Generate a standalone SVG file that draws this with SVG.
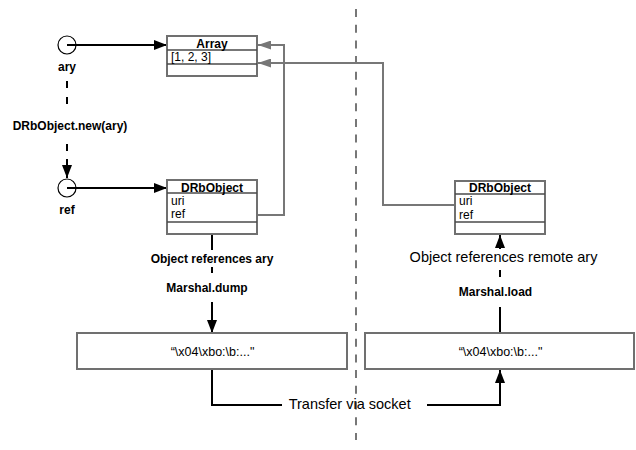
<svg xmlns="http://www.w3.org/2000/svg" width="636" height="450" viewBox="0 0 636 450">
<style>
text{font-family:"Liberation Sans",Arial,Helvetica,sans-serif;fill:#000}
.b{font-weight:bold;font-size:12px}
.t{font-size:12px}
.big{font-size:14.5px}
.mid{text-anchor:middle}
.box{fill:#fff;stroke:#707070;stroke-width:2}
.dv{stroke:#4a4a4a;stroke-width:1.5}
.blk{stroke:#000;stroke-width:2;fill:none}
.gry{stroke:#777;stroke-width:2;fill:none}
.circ{fill:#fff;stroke:#000;stroke-width:1.2}
</style>
<defs>
<marker id="ab" markerUnits="userSpaceOnUse" markerWidth="13" markerHeight="10" viewBox="0 0 13 10" refX="13" refY="5" orient="auto">
<path d="M0,0 L13,5 L0,10 z" fill="#000"/>
</marker>
<marker id="ag" markerUnits="userSpaceOnUse" markerWidth="13" markerHeight="9" viewBox="0 0 13 9" refX="13" refY="4.5" orient="auto">
<path d="M0,0 L13,4.5 L0,9 z" fill="#777"/>
</marker>
</defs>
<rect width="636" height="450" fill="#fff"/>

<line x1="356" y1="9" x2="356" y2="440" stroke="#777" stroke-width="2" stroke-dasharray="8 7.7"/>

<g id="connectors">
<line class="blk" x1="67" y1="45" x2="167" y2="45" marker-end="url(#ab)"/>
<line class="blk" x1="67" y1="188" x2="167" y2="188" marker-end="url(#ab)"/>
<polyline class="gry" points="257,215 284,215 284,45 258,45" marker-end="url(#ag)"/>
<polyline class="gry" points="455,205 383,205 383,63 258,63" marker-end="url(#ag)"/>
<line class="blk" x1="67" y1="81" x2="67" y2="105" stroke-dasharray="7 9"/>
<line class="blk" x1="67" y1="144" x2="67" y2="151"/>
<line class="blk" x1="67" y1="159" x2="67" y2="178" marker-end="url(#ab)"/>
<line class="blk" x1="212" y1="234" x2="212" y2="250"/>
<line class="blk" x1="212" y1="267" x2="212" y2="273"/>
<line class="blk" x1="212" y1="302" x2="212" y2="333" marker-end="url(#ab)"/>
<line class="blk" x1="500" y1="249" x2="500" y2="235" marker-end="url(#ab)"/>
<line class="blk" x1="500" y1="270" x2="500" y2="277"/>
<line class="blk" x1="500" y1="307" x2="500" y2="333"/>
<polyline class="blk" points="212,369 212,405 282,405"/>
<polyline class="blk" points="427,405 500,405 500,370" marker-end="url(#ab)"/>
</g>

<g id="ary">
<circle class="circ" cx="67" cy="45" r="9"/>
<line class="blk" x1="67" y1="45" x2="76" y2="45"/>
<text class="b mid" x="67" y="71">ary</text>
</g>
<g id="ref">
<circle class="circ" cx="67" cy="188" r="9"/>
<line class="blk" x1="67" y1="188" x2="76" y2="188"/>
<text class="b mid" x="67" y="214">ref</text>
</g>
<g id="label-new">
<text class="b mid" x="70" y="130">DRbObject.new(ary)</text>
</g>

<g id="array">
<rect class="box" x="167" y="36" width="90" height="40"/>
<line class="dv" x1="167" y1="50" x2="257" y2="50"/>
<line class="dv" x1="167" y1="64" x2="257" y2="64"/>
<text class="b mid" x="212" y="47.5">Array</text>
<text class="t" x="171" y="61">[1, 2, 3]</text>
</g>

<g id="drb-local">
<rect class="box" x="167" y="180" width="90" height="54"/>
<line class="dv" x1="167" y1="193" x2="257" y2="193"/>
<line class="dv" x1="167" y1="222" x2="257" y2="222"/>
<text class="b mid" x="212" y="191.5">DRbObject</text>
<text class="t" x="171" y="204.5">uri</text>
<text class="t" x="171" y="218">ref</text>
</g>

<g id="drb-remote">
<rect class="box" x="455" y="181" width="90" height="53"/>
<line class="dv" x1="455" y1="194" x2="545" y2="194"/>
<line class="dv" x1="455" y1="222" x2="545" y2="222"/>
<text class="b mid" x="500" y="191.5">DRbObject</text>
<text class="t" x="459" y="205">uri</text>
<text class="t" x="459" y="218.5">ref</text>
</g>

<g id="labels">
<text class="b mid" x="212" y="263">Object references ary</text>
<text class="b mid" x="207" y="292">Marshal.dump</text>
<text class="big mid" x="503.5" y="262">Object references remote ary</text>
<text class="b mid" x="495.5" y="296">Marshal.load</text>
<text class="big mid" x="349.7" y="408.5">Transfer via socket</text>
</g>

<g id="bytes-local">
<rect class="box" x="77" y="333" width="270" height="36"/>
<text class="mid" style="font-size:12.5px" x="212.5" y="356">“\x04\xbo:\b:..."</text>
</g>
<g id="bytes-remote">
<rect class="box" x="365" y="333" width="269" height="36"/>
<text class="mid" style="font-size:12.5px" x="500.5" y="356">“\x04\xbo:\b:..."</text>
</g>
</svg>
